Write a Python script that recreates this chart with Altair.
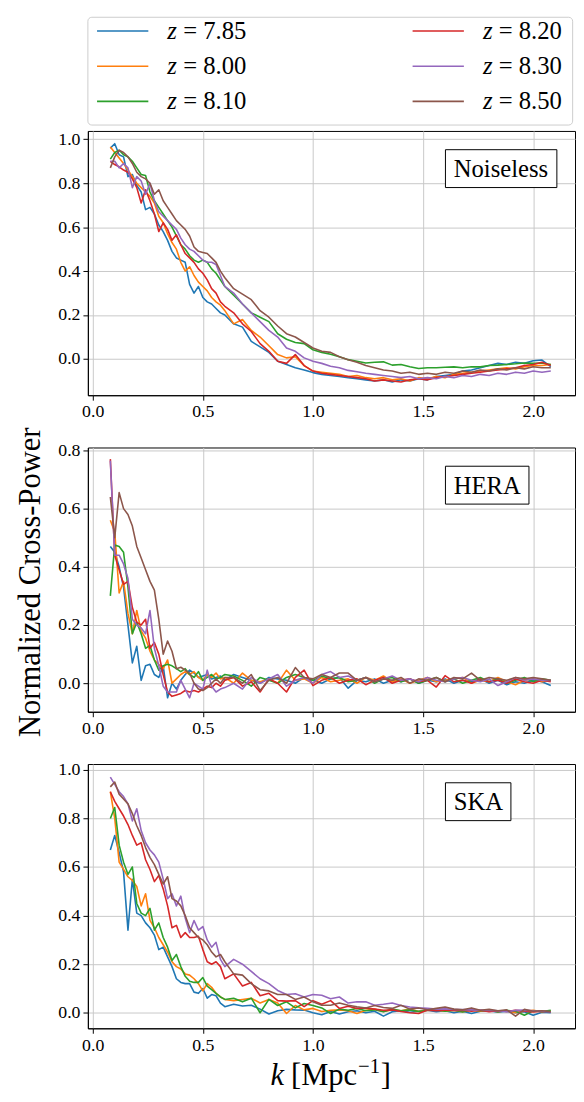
import altair as alt
import pandas as pd

# ---------------- data ----------------
K = [0.08, 0.10, 0.12, 0.14, 0.16, 0.18, 0.20, 0.22, 0.24, 0.26,
     0.28, 0.30, 0.32, 0.34, 0.36, 0.38, 0.40, 0.42, 0.44, 0.46,
     0.48, 0.50, 0.52, 0.54, 0.56, 0.58, 0.60,
     0.64, 0.68, 0.72, 0.76, 0.80, 0.84, 0.88, 0.92, 0.96, 1.00,
     1.04, 1.08, 1.12, 1.16, 1.20, 1.24, 1.28, 1.32, 1.36, 1.40,
     1.44, 1.48, 1.52, 1.56, 1.60, 1.64, 1.68, 1.72, 1.76, 1.80,
     1.84, 1.88, 1.92, 1.96, 2.00, 2.04, 2.08]

Z_LABELS = ["7.85", "8.00", "8.10", "8.20", "8.30", "8.50"]
COLORS = ["#1f77b4", "#ff7f0e", "#2ca02c", "#d62728", "#9467bd", "#8c564b"]

# Noiseless
n785 = [.96, .98, .93, .92, .83, .84, .79, .76, .68, .69, .66, .61, .58, .54, .49, .46, .45, .44, .34, .30,
        .33, .28, .26, .25, .23, .21, .20,
        .16, .145, .08, .055, .03, -.01, -.025, -.04, -.05, -.062,
        -.07, -.075, -.08, -.085, -.09, -.095, -.1, -.095, -.105, -.095,
        -.1, -.09, -.095, -.08, -.075, -.07, -.055, -.05, -.04, -.03,
        -.02, -.025, -.015, -.02, -.008, -.005, -.035]
n800 = [.965, .94, .915, .89, .86, .83, .80, .78, .76, .74, .71, .65, .62, .57, .53, .50, .44, .40, .42, .38,
        .35, .33, .31, .28, .26, .245, .22,
        .16, .18, .13, .10, .06, .02, .005, .01, -.03, -.055,
        -.06, -.065, -.07, -.08, -.075, -.085, -.09, -.085, -.095, -.09,
        -.1, -.085, -.09, -.08, -.085, -.07, -.065, -.06, -.055, -.05,
        -.045, -.04, -.045, -.035, -.03, -.03, -.025]
n810 = [.91, .94, .95, .93, .92, .90, .87, .84, .835, .76, .72, .69, .66, .63, .60, .56, .52, .50, .47, .45,
        .44, .45, .44, .41, .39, .36, .33,
        .29, .25, .21, .19, .17, .115, .09, .075, .07, .042,
        .03, .022, .01, -.003, -.01, -.018, -.015, -.013, -.028, -.025,
        -.035, -.043, -.04, -.04, -.038, -.036, -.04, -.035, -.036, -.03,
        -.028, -.025, -.022, -.018, -.02, -.018, -.025]
n820 = [.90, .885, .875, .86, .85, .82, .78, .71, .77, .72, .66, .58, .62, .59, .54, .565, .52, .48, .46, .44,
        .41, .39, .36, .32, .30, .26, .24,
        .21, .16, .125, .07, .035, -.01, -.02, .02, -.03, -.055,
        -.065, -.07, -.075, -.08, -.085, -.09, -.1, -.095, -.1, -.105,
        -.095, -.09, -.095, -.085, -.08, -.075, -.07, -.065, -.06, -.055,
        -.05, -.045, -.04, -.03, -.025, -.015, -.03]
n830 = [.90, .90, .87, .89, .87, .78, .83, .81, .75, .80, .72, .67, .65, .63, .61, .59, .55, .52, .50, .49,
        .47, .45, .44, .44, .43, .38, .33,
        .30, .25, .21, .17, .13, .10, .05, .035, .005, -.01,
        -.02, -.033, -.04, -.052, -.058, -.065, -.07, -.075, -.08, -.085,
        -.08, -.09, -.085, -.09, -.08, -.085, -.075, -.08, -.07, -.075,
        -.065, -.07, -.06, -.065, -.055, -.06, -.055]
n850 = [.87, .92, .95, .94, .92, .89, .85, .83, .82, .80, .75, .77, .72, .69, .66, .63, .61, .59, .56, .51,
        .49, .485, .48, .46, .44, .40, .37,
        .32, .295, .27, .22, .19, .15, .115, .10, .075, .05,
        .035, .03, .01, -.003, -.015, -.03, -.04, -.05, -.055, -.065,
        -.06, -.07, -.065, -.07, -.06, -.065, -.055, -.06, -.05, -.055,
        -.045, -.05, -.04, -.045, -.035, -.04, -.04]

# HERA
h785 = [.47, .45, .40, .33, .20, .07, .127, .01, .06, .065, .03, .02, .06, -.05, .0, -.02, .01, .03, .045, .035,
        .02, .025, .03, .015, .02, .025, .01,
        .03, .02, .01, .0, .02, .015, .01, .0, .02, .01,
        .0, .015, .02, -.017, .01, .005, .015, .0, .01, .005,
        .015, .0, .01, .005, .015, .0, .01, .005, .015, .0,
        .01, -.005, .005, .0, .01, .005, -.008]
h800 = [.56, .52, .31, .35, .24, .17, .25, .18, .155, .11, .08, .065, .05, .08, .0, .015, .03, .04, .03, .04,
        .02, .01, .03, .02, .035, .015, .02,
        .0, .035, .01, .005, .015, .0, .045, .01, .015, .0,
        .02, .005, .01, .015, .0, .02, .01, .025, .005, .015,
        .0, .01, .02, .005, .01, .015, .02, .0, .01, .005,
        .02, .005, -.005, .01, .015, .005, .01]
h810 = [.30, .475, .47, .45, .33, .17, .21, .17, .12, .13, .08, .045, .06, .065, .06, .05, .04, .05, .03, .02,
        .04, .01, .02, .03, .015, .02, .03,
        .025, .01, -.01, .02, .01, .0, .02, .03, .02, .01,
        .025, .015, .02, .005, .01, .02, .0, .015, .02, .005,
        .015, .0, .01, .02, .005, .015, .0, .01, .02, .005,
        .015, .0, .01, .02, .005, .015, .01]
h820 = [.77, .44, .39, .34, .35, .26, .21, .20, .22, .12, .14, .10, .03, -.03, -.045, -.04, -.035, -.025, -.03, -.025,
        -.03, -.02, -.01, -.015, .0, -.01, .01,
        .02, -.01, .005, -.03, .015, .0, -.03, .02, .045, -.008,
        .01, .02, .0, .01, .015, -.005, .01, .02, .0, .01,
        .015, .005, .01, -.013, .026, .005, .01, .0, .015, .005,
        .01, .0, .015, .005, .0, .01, .005]
h830 = [.765, .44, .44, .41, .36, .22, .20, .19, .17, .25, .12, .06, -.01, -.03, -.03, -.03, .01, -.02, -.05, .0,
        -.01, -.02, .045, -.01, -.03, -.02, -.015,
        .0, -.02, .02, .0, .015, .03, -.01, .01, .02, .0,
        .03, .04, .02, .025, .01, .02, .005, .015, .025, .01,
        .015, .005, .02, .01, .005, .015, .02, .01, .005, .015,
        -.008, .005, .02, .01, .015, .01, .01]
h850 = [.64, .50, .655, .60, .58, .54, .47, .43, .39, .35, .32, .22, .10, .145, .11, .05, .055, .045, .035, .0,
        -.02, -.025, -.015, .0, .015, .0, .02,
        .02, .0, .03, -.025, .01, .02, .0, .054, .02, .015,
        .03, .02, .035, .035, .01, .02, .005, .015, .01, .02,
        .0, .015, .01, .02, .005, .02, .015, .035, .01, .02,
        .015, .01, .02, .015, .02, .015, .01]

# SKA
s785 = [.67, .73, .66, .58, .34, .55, .41, .40, .37, .35, .32, .26, .27, .23, .19, .14, .125, .12, .12, .085,
        .08, .10, .06, .075, .07, .04, .025,
        .035, .028, .031, .015, -.005, .008, .014, .012, .011, .0,
        -.008, .005, -.005, .004, .008, .0, .006, -.014, .004, .008,
        .002, .006, .01, .004, .008, .0, .006, -.003, .006, .008,
        .002, .006, .0, .004, -.01, .002, .0]
s800 = [.91, .80, .62, .59, .56, .545, .52, .44, .49, .38, .35, .31, .28, .25, .21, .19, .18, .16, .155, .14,
        .12, .09, .12, .105, .08, .065, .055,
        .05, .055, .06, .04, .055, .04, -.003, .03, .012, .018,
        .005, .01, .012, .008, -.003, .01, .015, .005, .012, .008,
        .015, .005, .01, .012, .006, .01, .004, .012, .006, .01,
        .004, .008, .0, .006, .01, .004, .008]
s810 = [.80, .845, .69, .62, .57, .60, .45, .41, .40, .43, .34, .37, .31, .27, .215, .24, .19, .15, .13, .125,
        .125, .145, .11, .095, .08, .065, .055,
        .06, .045, .06, .0, .055, .03, .045, .02, .038, .03,
        .02, -.003, .015, .01, .018, .008, .012, .004, .015, .008,
        .012, .005, .01, .014, .006, .01, .003, .012, .008, .01,
        .004, .01, .006, -.01, .008, .005, .01]
s820 = [.91, .87, .84, .81, .775, .73, .69, .70, .63, .59, .54, .565, .51, .44, .35, .36, .31, .33, .31, .31,
        .315, .26, .21, .20, .21, .19, .14,
        .16, .11, .125, .07, .08, .05, .048, .05, .025, .05,
        .035, .05, .018, .027, .018, .02, .015, .01, .012, .005,
        .0, -.003, .011, .008, .012, .01, .011, .006, .01, .004,
        .008, .005, .01, .006, .003, .006, .004]
s830 = [.97, .94, .91, .89, .86, .79, .84, .75, .70, .67, .65, .62, .55, .47, .49, .44, .48, .39, .33, .38,
        .34, .355, .30, .27, .29, .22, .19,
        .22, .20, .17, .14, .12, .092, .075, .078, .065, .075,
        .072, .058, .065, .04, .045, .045, .031, .035, .04, .03,
        .024, .02, .018, .015, .016, .014, .013, .012, .011, .01,
        .008, .004, .01, .011, .008, .006, .004]
s850 = [.93, .95, .90, .88, .86, .82, .77, .73, .68, .64, .61, .57, .53, .56, .47, .46, .44, .40, .35, .33,
        .31, .30, .28, .25, .23, .24, .21,
        .16, .155, .12, .095, .09, .075, .075, .055, .065, .045,
        .031, .031, .04, .031, .025, .02, .03, .022, .018, .031,
        .015, .02, .012, .018, .024, .015, .012, .02, .01, .014,
        .008, .012, -.014, .014, .006, .008, .004]

NOISELESS = [n785, n800, n810, n820, n830, n850]
HERA = [h785, h800, h810, h820, h830, h850]
SKA = [s785, s800, s810, s820, s830, s850]
for group in (NOISELESS, HERA, SKA):
    for s in group:
        assert len(s) == len(K), len(s)

X_TICKS = [0.0, 0.5, 1.0, 1.5, 2.0]

# ---------------- styling ----------------
FONT = "Liberation Serif"
W, H = 494, 268
color_scale = alt.Scale(domain=Z_LABELS, range=COLORS)
one = pd.DataFrame({"a": [0]})


def long_df(series):
    rows = []
    for z, vals in zip(Z_LABELS, series):
        for kk, v in zip(K, vals):
            rows.append({"k": kk, "v": v, "z": z})
    return pd.DataFrame(rows)


def panel(series, ydomain, yticks, label, box_w):
    lines = alt.Chart(long_df(series)).mark_line(strokeWidth=1.6, strokeJoin="round").encode(
        x=alt.X("k:Q", scale=alt.Scale(domain=[-0.022, 2.19], nice=False, zero=False),
                axis=alt.Axis(values=X_TICKS, format=".1f", title=None)),
        y=alt.Y("v:Q", scale=alt.Scale(domain=ydomain, nice=False, zero=False),
                axis=alt.Axis(values=yticks, format=".1f", title=None)),
        color=alt.Color("z:N", scale=color_scale, legend=None),
    )
    box = alt.Chart(one).mark_rect(fill="white", stroke="black", strokeWidth=1).encode(
        x=alt.value(362.6), x2=alt.value(362.6 + box_w), y=alt.value(19), y2=alt.value(57.4))
    txt = alt.Chart(one).mark_text(text=label, font=FONT, fontSize=25, align="left",
                                   baseline="middle", color="black").encode(
        x=alt.value(371), y=alt.value(39))
    return [lines, box, txt]


def legend_layers():
    layers = [alt.Chart(one).mark_rect(fill="white", stroke="#cccccc", strokeWidth=1,
                                       cornerRadius=4).encode(
        x=alt.value(0), x2=alt.value(491.6), y=alt.value(-115.3), y2=alt.value(-6))]
    row_y = [-101.3, -65.6, -30.0]
    col_x = [9.3, 329.3]
    for i, (z, c) in enumerate(zip(Z_LABELS, COLORS)):
        cx = col_x[i // 3]
        ry = row_y[i % 3]
        layers.append(alt.Chart(one).mark_rule(color=c, strokeWidth=1.6).encode(
            x=alt.value(cx), x2=alt.value(cx + 52), y=alt.value(ry), y2=alt.value(ry)))
        layers.append(alt.Chart(one).mark_text(text="z", font=FONT, fontStyle="italic", fontSize=25,
                                               align="left", baseline="middle", color="black").encode(
            x=alt.value(cx + 71.3), y=alt.value(ry)))
        layers.append(alt.Chart(one).mark_text(text="= " + z, font=FONT, fontSize=25,
                                               align="left", baseline="middle", color="black").encode(
            x=alt.value(cx + 87.3), y=alt.value(ry)))
    return layers


p1 = alt.layer(*panel(NOISELESS, [-0.165, 1.038], [0.0, 0.2, 0.4, 0.6, 0.8, 1.0], "Noiseless", 113),
               *legend_layers()).properties(width=W, height=H)

ytitle = alt.Chart(one).mark_text(text="Normalized Cross-Power", font=FONT, fontSize=31, angle=270,
                                  align="center", baseline="middle", color="black").encode(
    x=alt.value(-57.5), y=alt.value(136.7))
p2 = alt.layer(*panel(HERA, [-0.098, 0.810], [0.0, 0.2, 0.4, 0.6, 0.8], "HERA", 84.7),
               ytitle).properties(width=W, height=H)

xt_k = alt.Chart(one).mark_text(text="k", font=FONT, fontStyle="italic", fontSize=31, align="right",
                                baseline="alphabetic", color="black").encode(
    x=alt.value(199), y=alt.value(325))
xt_u = alt.Chart(one).mark_text(text="[Mpc", font=FONT, fontSize=31, align="left",
                                baseline="alphabetic", color="black").encode(
    x=alt.value(206), y=alt.value(325))
xt_s = alt.Chart(one).mark_text(text="\u22121", font=FONT, fontSize=21, align="left",
                                baseline="alphabetic", color="black").encode(
    x=alt.value(274), y=alt.value(313))
xt_b = alt.Chart(one).mark_text(text="]", font=FONT, fontSize=31, align="left",
                                baseline="alphabetic", color="black").encode(
    x=alt.value(297), y=alt.value(325))
p3 = alt.layer(*panel(SKA, [-0.064, 1.024], [0.0, 0.2, 0.4, 0.6, 0.8, 1.0], "SKA", 66.4),
               xt_k, xt_u, xt_s, xt_b).properties(width=W, height=H)

chart = alt.vconcat(p1, p2, p3, spacing=53, bounds="flush").properties(
    padding={"left": 6, "top": 0, "right": 0, "bottom": 0}
).configure(font=FONT).configure_view(stroke="black", strokeWidth=1).configure_axis(
    labelFont=FONT, labelFontSize=18, labelColor="black", tickColor="black", tickSize=5,
    tickWidth=1, domainColor="black", domainWidth=1, gridColor="#c8c8c8", gridWidth=1,
    labelPadding=3, labelOverlap=False
)

chart.save("out.html", embed_options={"renderer": "svg", "actions": False})
